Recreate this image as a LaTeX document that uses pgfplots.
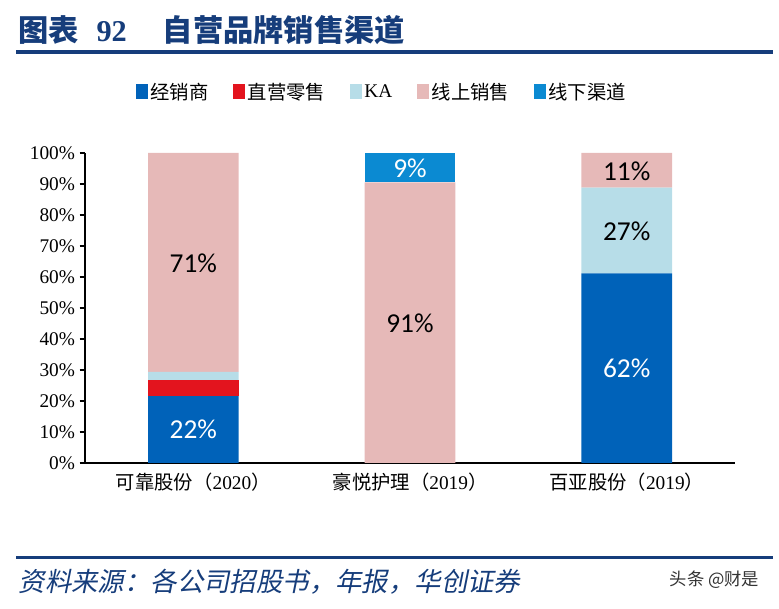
\documentclass[border=0pt]{standalone}
\usepackage{pgfplots}
\pgfplotsset{compat=1.18}
\usepackage{fontspec}
\setmainfont{Liberation Serif}
\newfontfamily\cjk{Noto Sans CJK SC}
\newfontfamily\cjkit{Noto Sans CJK SC}[FakeSlant=0.2]
\newfontfamily\calibri{Carlito}

\definecolor{navy}{HTML}{163D7B}
\definecolor{dist}{HTML}{0062B9}
\definecolor{retail}{HTML}{E3141E}
\definecolor{ka}{HTML}{B7DDE8}
\definecolor{online}{HTML}{E6B9B8}
\definecolor{offline}{HTML}{0B8AD2}

\pgfplotsset{
  sq legend/.style={legend image code/.code={%
    \fill[#1,draw=none] (0pt,-5pt) rectangle (9pt,6pt);}},
}

\begin{document}
\begin{tikzpicture}
\path (0pt,0pt) rectangle (584.25pt,456.75pt);

% title and rules
\node[anchor=west, text=navy, font=\cjk\bfseries\fontsize{22.7}{26}\selectfont]
  at (10.5pt,434pt) {图表\hspace{13pt}{\rmfamily\bfseries 92}\hspace{27pt}自营品牌销售渠道};
\fill[navy] (12pt,416pt) rectangle (579.75pt,419pt);
\fill[navy] (12pt,37.5pt) rectangle (579.75pt,39.75pt);

\begin{axis}[
  at={(63.75pt,109.5pt)}, anchor=south west,
  width=487.5pt, height=232.5pt, scale only axis,
  ybar stacked, bar width=68pt,
  xmin=0, xmax=3, ymin=0, ymax=100,
  axis x line=bottom, axis y line=left,
  axis line style={-, black, line width=0.8pt},
  xtick={0.5,1.5,2.5},
  xticklabels={{\cjk 可靠股份（}2020{\cjk ）},{\cjk 豪悦护理（}2019{\cjk ）},{\cjk 百亚股份（}2019{\cjk ）}},
  xtick style={draw=none},
  extra x ticks={0,1,2,3}, extra x tick labels={},
  extra x tick style={tick style={draw=black, line width=0.8pt}, major tick length=5pt},
  ytick={0,10,...,100},
  yticklabels={0\%,10\%,20\%,30\%,40\%,50\%,60\%,70\%,80\%,90\%,100\%},
  ytick style={black, line width=0.8pt}, tick align=outside, major tick length=4pt,
  ticklabel style={font=\fontsize{14.5}{16}\selectfont},
  legend style={at={(0.457,1.197)}, anchor=center, draw=none, fill=none,
    font=\fontsize{14.5}{16}\selectfont, legend columns=5,
    /tikz/every even column/.append style={column sep=16.5pt}},
  legend cell align=left,
  clip=false,
]
\addplot[fill=dist, draw=none, sq legend] coordinates {(0.5,21.6) (1.5,0) (2.5,61.2)};
\addlegendentry{\cjk 经销商}
\addplot[fill=retail, draw=none, sq legend] coordinates {(0.5,5.2) (1.5,0) (2.5,0)};
\addlegendentry{\cjk 直营零售}
\addplot[fill=ka, draw=none, sq legend] coordinates {(0.5,2.6) (1.5,0) (2.5,27.6)};
\addlegendentry{KA}
\addplot[fill=online, draw=none, sq legend] coordinates {(0.5,70.6) (1.5,90.5) (2.5,11.2)};
\addlegendentry{\cjk 线上销售}
\addplot[fill=offline, draw=none, sq legend] coordinates {(0.5,0) (1.5,9.5) (2.5,0)};
\addlegendentry{\cjk 线下渠道}

% label anchors (segment centres)
\coordinate (l1) at (axis cs:0.5,10.8);
\coordinate (l2) at (axis cs:0.5,64.5);
\coordinate (l3) at (axis cs:1.5,45.2);
\coordinate (l4) at (axis cs:1.5,95.2);
\coordinate (l5) at (axis cs:2.5,30.4);
\coordinate (l6) at (axis cs:2.5,74.9);
\coordinate (l7) at (axis cs:2.5,94.1);
\end{axis}

\begin{scope}[every node/.style={font=\calibri\fontsize{20.5}{24}\selectfont}]
\node[text=white] at (l1) {22\%};
\node[text=black] at (l2) {71\%};
\node[text=black] at (l3) {91\%};
\node[text=white] at (l4) {9\%};
\node[text=white] at (l5) {62\%};
\node[text=black] at (l6) {27\%};
\node[text=black] at (l7) {11\%};
\end{scope}

% footer
\node[anchor=west, text=navy, font=\cjkit\fontsize{19.8}{23}\selectfont]
  at (10.5pt,20.25pt) {资料来源：各公司招股书，年报，华创证券};
\node[anchor=east, text=black!80, font=\cjk\fontsize{13}{15}\selectfont]
  at (573pt,21.75pt) {头条 @财是};
\end{tikzpicture}
\end{document}
